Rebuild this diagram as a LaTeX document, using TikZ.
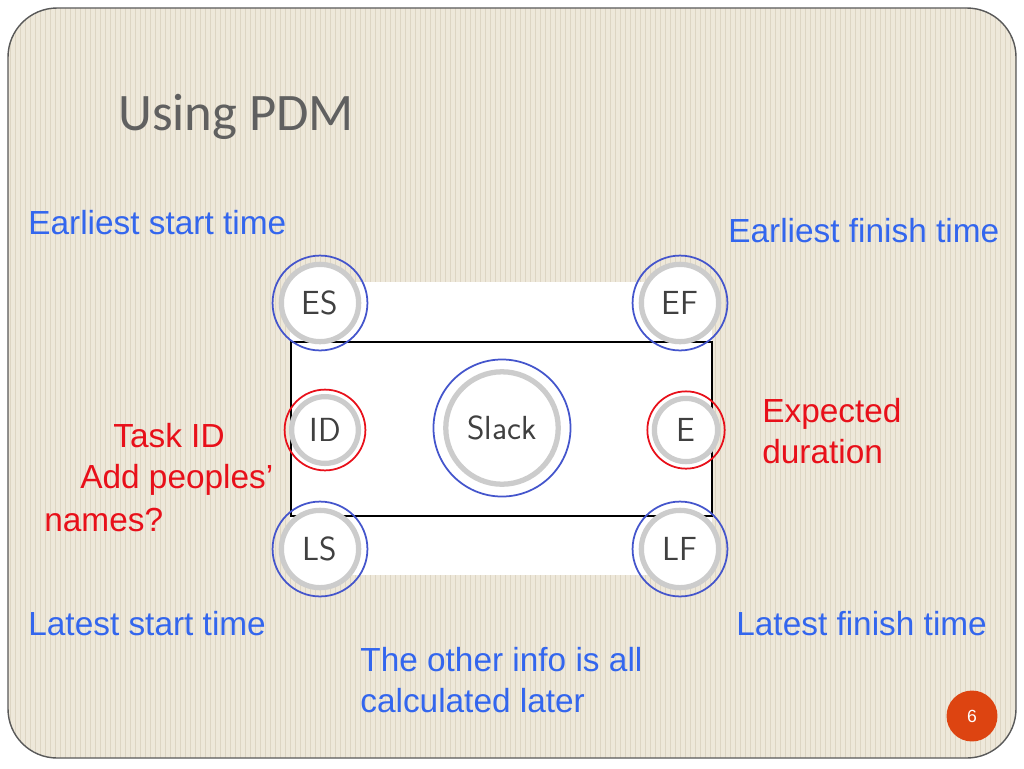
\documentclass[tikz,border=0pt]{standalone}
\usepackage{fontspec}
\setmainfont{Liberation Sans}
\newfontfamily\titlefont{Carlito}
\definecolor{paper}{HTML}{EEE8DA}
\definecolor{stripe}{HTML}{DDD5C3}
\definecolor{lblblue}{HTML}{3366EE}
\definecolor{lblred}{HTML}{E8101A}
\definecolor{ringblue}{HTML}{4455CC}
\definecolor{pgorange}{HTML}{DD4411}
\tikzset{
  lbl/.style={font=\fontsize{19}{23.5}\selectfont, text=lblblue, anchor=west, align=left, inner sep=0pt},
  redlbl/.style={lbl, text=lblred},
  ring/.style={circle, draw=ringblue, line width=1pt, minimum size=#1, inner sep=0pt},
  redring/.style={circle, draw=lblred, line width=1pt, minimum size=#1, inner sep=0pt},
  cell/.style={circle, fill=white, draw=gray!40, line width=3pt, inner sep=0pt, font=\fontsize{19}{22}\selectfont\sffamily, text=gray!50!black, minimum size=#1}
}
\begin{document}
\begin{tikzpicture}[x=0.02cm, y=-0.02cm]
\useasboundingbox (0,0) rectangle (1024,768);
% background
\fill[white] (0,0) rectangle (1024,768);
\fill[paper, rounded corners=28] (8,8) rectangle (1016,758);
\begin{scope}
  \clip[rounded corners=28] (8,8) rectangle (1016,758);
  \foreach \x in {10,15,...,1015} \draw[stripe, line width=0.4pt] (\x,8) -- (\x,758);
\end{scope}
\draw[gray!70!black, line width=0.8pt, rounded corners=28] (8,8) rectangle (1016,758);
\node (title) [anchor=west, text=gray!75!black, font=\titlefont\fontsize{30}{34}\selectfont] at (112,117) {Using PDM};
% picture of the node
\fill[white] (290,282) rectangle (712,575);
\draw[black, line width=1pt] (291,342) rectangle (712,516);
\node (es) [cell=44pt] at (320,303) {ES};
\node (ef) [cell=44pt] at (680,303) {EF};
\node (ls) [cell=44pt] at (320,549) {LS};
\node (lf) [cell=44pt] at (680,549) {LF};
\node (id) [cell=38pt] at (325,430) {ID};
\node (e) [cell=36pt] at (686,430) {E};
\node (slack) [cell=64pt] at (502,428) {Slack};
\node [ring=54pt] at (es) {};
\node [ring=54pt] at (ef) {};
\node [ring=54pt] at (ls) {};
\node [ring=54pt] at (lf) {};
\node [redring=46pt] at (id) {};
\node [redring=44pt] at (e) {};
\node [ring=78pt] at (slack) {};
% labels
\node (est) [lbl] at (28,223) {Earliest start time};
\node (eft) [lbl] at (728,231) {Earliest finish time};
\node (lst) [lbl] at (28,624) {Latest start time};
\node (lft) [lbl] at (736,624) {Latest finish time};
\node (other) [lbl] at (360,680) {The other info is all\\calculated later};
\node (dur) [redlbl] at (762,431) {Expected\\duration};
\node (tid) [redlbl] at (113,436) {Task ID};
\node (add) [redlbl] at (80,480) {Add peoples’};
\node (nm) [redlbl] at (44,520) {names?};
% page number
\node (pg) [circle, fill=pgorange, minimum size=29pt, inner sep=0pt, text=white, font=\fontsize{10}{12}\selectfont] at (972,716) {6};
\end{tikzpicture}
\end{document}
